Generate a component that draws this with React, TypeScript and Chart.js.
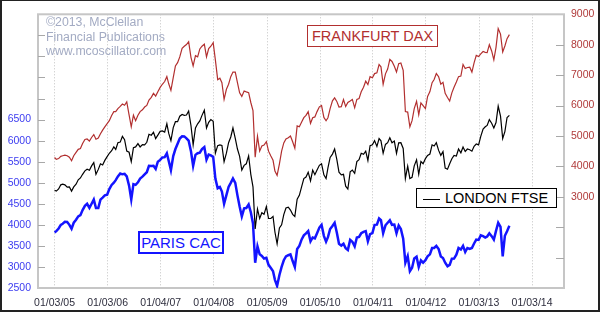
import React, { useEffect, useRef } from "react";
import { Chart, registerables } from "chart.js";

Chart.register(...registerables);

// X axis tick dates and labels
const tickDates = ["2005-01-03", "2006-01-03", "2007-01-04", "2008-01-04", "2009-01-05", "2010-01-05", "2011-01-04", "2012-01-04", "2013-01-03", "2014-01-03"];
const tickLabels = ["01/03/05", "01/03/06", "01/04/07", "01/04/08", "01/05/09", "01/05/10", "01/04/11", "01/04/12", "01/03/13", "01/03/14"];

// First observation date; afterwards mid-month and month-end observations, Jan 2005 - Jul 2013
const startDate = "2005-01-03";
const firstMonth = [2005, 0];
const lastMonth = [2013, 6];

// Frankfurt DAX (right axis) — start, then [mid, end] per month
const dax = [
  4290,
  4230, 4255, 4330, 4350, 4370, 4349, 4300, 4185, 4350, 4460, 4560, 4587, 4750, 4886, 4900, 4830, 4950, 5044, 4890, 4929, 5070, 5193, 5300, 5408,
  5500, 5674, 5800, 5797, 5900, 5970, 6050, 6009, 6120, 5692, 5300, 5683, 5500, 5682, 5800, 5860, 5950, 6004, 6180, 6269, 6400, 6309, 6450, 6597,
  6700, 6789, 6950, 6715, 6500, 6917, 7300, 7409, 7600, 7883, 7950, 8007, 8100, 7584, 7300, 7638, 7600, 7862, 7950, 8019, 7600, 7871, 7950, 8067,
  7500, 6851, 6900, 6748, 6200, 6535, 6700, 6949, 7100, 7097, 6750, 6418, 6300, 6479, 6450, 6422, 6100, 5831, 4300, 4988, 4500, 4669, 4700, 4810,
  4500, 4338, 4200, 3844, 3700, 4085, 4500, 4770, 4900, 4941, 5000, 4809, 4600, 5332, 5300, 5458, 5600, 5675, 5800, 5415, 5600, 5625, 5800, 5957,
  6000, 5608, 5500, 5598, 5900, 6154, 6250, 6136, 5950, 5964, 6200, 5966, 6100, 6148, 6200, 5925, 6200, 6229, 6450, 6601, 6800, 6688, 6950, 6914,
  7050, 7077, 7350, 7273, 6700, 7041, 7200, 7514, 7450, 7294, 7100, 7376, 7400, 7159, 5800, 5785, 5300, 5502, 5900, 6141, 5700, 6089, 6000, 5898,
  6300, 6458, 6750, 6856, 7050, 6947, 6700, 6761, 6400, 6264, 6150, 6416, 6600, 6772, 6950, 6971, 7350, 7216, 7250, 7260, 7100, 7405, 7650, 7612,
  7700, 7776, 7750, 7742, 8000, 7795, 7500, 7914, 8530, 8349, 7760, 7959, 8200, 8330,
];

// London FTSE (left axis)
const ftse = [
  4820,
  4800, 4852, 4950, 4968, 4950, 4894, 4900, 4801, 4900, 4964, 5070, 5113, 5200, 5282, 5320, 5296, 5400, 5478, 5200, 5317, 5450, 5423, 5530, 5619,
  5700, 5760, 5850, 5792, 5950, 5965, 6100, 6023, 5750, 5724, 5500, 5833, 5850, 5928, 5850, 5906, 5900, 5961, 6150, 6129, 6200, 6049, 6130, 6221,
  6230, 6203, 6400, 6172, 6000, 6308, 6450, 6449, 6580, 6621, 6600, 6608, 6700, 6360, 5900, 6303, 6400, 6467, 6600, 6722, 6300, 6433, 6500, 6457,
  5700, 5880, 5900, 5884, 5500, 5702, 5950, 6087, 6300, 6054, 5800, 5626, 5300, 5412, 5450, 5637, 5200, 4902, 3900, 4377, 4150, 4288, 4250, 4434,
  4150, 4150, 4200, 3830, 3550, 3926, 4000, 4244, 4400, 4418, 4350, 4249, 4200, 4608, 4700, 4909, 5100, 5134, 5250, 5045, 5300, 5191, 5300, 5413,
  5450, 5189, 5100, 5355, 5600, 5680, 5800, 5553, 5250, 5188, 5200, 4917, 4850, 5258, 5300, 5225, 5500, 5549, 5700, 5675, 5750, 5528, 5880, 5900,
  6000, 5863, 6050, 5994, 5700, 5909, 5950, 6070, 5950, 5990, 5700, 5946, 5950, 5815, 5100, 5395, 5100, 5128, 5400, 5545, 5200, 5505, 5450, 5572,
  5650, 5682, 5900, 5872, 5950, 5768, 5650, 5738, 5350, 5321, 5450, 5571, 5650, 5635, 5800, 5711, 5850, 5742, 5800, 5783, 5750, 5867, 5920, 5898,
  6100, 6277, 6330, 6361, 6500, 6412, 6300, 6430, 6820, 6583, 6050, 6215, 6550, 6600,
];

// Paris CAC (left axis)
const cac = [
  3820,
  3850, 3913, 4000, 4027, 4070, 4068, 4000, 3909, 4050, 4120, 4200, 4229, 4350, 4451, 4500, 4401, 4500, 4600, 4400, 4400, 4600, 4647, 4700, 4715,
  4850, 4947, 5000, 5061, 5150, 5220, 5200, 5210, 5150, 4930, 4600, 4966, 4950, 5009, 5100, 5144, 5200, 5250, 5400, 5398, 5400, 5327, 5500, 5542,
  5600, 5608, 5700, 5516, 5300, 5634, 5800, 5924, 6050, 6104, 6100, 6055, 6000, 5751, 5400, 5662, 5700, 5716, 5800, 5848, 5550, 5670, 5650, 5614,
  5100, 4870, 4900, 4790, 4500, 4707, 4900, 4997, 5100, 4996, 4700, 4434, 4200, 4392, 4400, 4483, 4300, 4032, 3100, 3487, 3300, 3262, 3200, 3218,
  3050, 2973, 2900, 2693, 2550, 2808, 3000, 3159, 3250, 3278, 3300, 3140, 3000, 3426, 3500, 3653, 3750, 3795, 3850, 3608, 3700, 3680, 3800, 3936,
  4000, 3739, 3600, 3708, 3900, 3974, 4050, 3816, 3550, 3508, 3550, 3443, 3400, 3643, 3600, 3490, 3700, 3715, 3800, 3833, 3850, 3610, 3780, 3805,
  4000, 4005, 4150, 4110, 3800, 3989, 4050, 4107, 4000, 4006, 3800, 3982, 3900, 3672, 3100, 3256, 2900, 2981, 3200, 3242, 3000, 3154, 3100, 3160,
  3250, 3298, 3450, 3452, 3500, 3424, 3250, 3213, 3100, 3017, 3050, 3197, 3200, 3291, 3450, 3414, 3500, 3355, 3450, 3429, 3450, 3557, 3650, 3641,
  3750, 3733, 3700, 3723, 3800, 3731, 3650, 3857, 4050, 3949, 3250, 3739, 3850, 3980,
];

const DAY = 86400000;
const toUTC = (s: string) => {
  const [y, m, d] = s.split("-").map(Number);
  return Date.UTC(y, m - 1, d);
};
const origin = toUTC(startDate);
const toDay = (t: number) => (t - origin) / DAY;

function observationDays(): number[] {
  const out = [0];
  let [y, m] = firstMonth;
  while (y < lastMonth[0] || (y === lastMonth[0] && m <= lastMonth[1])) {
    out.push(toDay(Date.UTC(y, m, 15)));
    out.push(toDay(Date.UTC(y, m + 1, 0)));
    m++;
    if (m > 11) { m = 0; y++; }
  }
  return out;
}

const FONT = "'Liberation Sans', Arial, sans-serif";
const DAX_COLOR = "#b22f2f";
const CAC_COLOR = "#1414ff";

const framePlugin = {
  id: "frameTicks",
  beforeDatasetsDraw(chart: any) {
    const { ctx, chartArea: a, scales } = chart;
    ctx.save();
    ctx.strokeStyle = "#c6c6c6";
    ctx.lineWidth = 2;
    ctx.strokeRect(a.left, a.top, a.right - a.left, a.bottom - a.top);
    ctx.strokeStyle = "#a8a8a8";
    ctx.lineWidth = 1;
    ctx.beginPath();
    for (const t of scales.y.ticks) {
      if (t.value <= scales.y.min || t.value >= scales.y.max) continue;
      const py = Math.round(scales.y.getPixelForValue(t.value)) + 0.5;
      ctx.moveTo(a.left, py);
      ctx.lineTo(a.left + 7, py);
    }
    for (const t of scales.y1.ticks) {
      if (t.value <= scales.y1.min || t.value >= scales.y1.max) continue;
      const py = Math.round(scales.y1.getPixelForValue(t.value)) + 0.5;
      ctx.moveTo(a.right - 8, py);
      ctx.lineTo(a.right, py);
    }
    ctx.stroke();
    ctx.restore();
  },
};

export default function App() {
  const ref = useRef<HTMLCanvasElement>(null);

  useEffect(() => {
    const days = observationDays();
    const pts = (arr: number[]) => arr.map((v, i) => ({ x: days[i], y: v }));
    const tickDays = tickDates.map((d) => toDay(toUTC(d)));

    const chart = new Chart(ref.current!, {
      type: "line",
      data: {
        datasets: [
          { label: "FRANKFURT DAX", data: pts(dax), yAxisID: "y1", borderColor: DAX_COLOR, borderWidth: 1.2, pointRadius: 0, tension: 0 },
          { label: "LONDON FTSE", data: pts(ftse), yAxisID: "y", borderColor: "#000000", borderWidth: 1.2, pointRadius: 0, tension: 0 },
          { label: "PARIS CAC", data: pts(cac), yAxisID: "y", borderColor: CAC_COLOR, borderWidth: 2.5, pointRadius: 0, tension: 0 },
        ],
      },
      options: {
        animation: false,
        responsive: false,
        events: [],
        layout: { padding: { top: 11, left: 0, right: 0, bottom: 0 } },
        plugins: { legend: { display: false }, tooltip: { enabled: false } },
        scales: {
          x: {
            type: "linear",
            min: -114,
            max: 3507,
            afterBuildTicks: (s: any) => { s.ticks = tickDays.map((v) => ({ value: v })); },
            afterFit: (s: any) => { s.height = 22; },
            ticks: {
              autoSkip: false,
              maxRotation: 0,
              padding: 9,
              color: "#2e2e3e",
              font: { family: FONT, size: 10.5 },
              callback: (v: any) => { const i = tickDays.indexOf(Number(v)); return i >= 0 ? tickLabels[i] : ""; },
            },
            grid: { display: true, color: "#c2c2c2", lineWidth: 1, drawTicks: false },
            border: { display: false, dash: [1, 2] },
          },
          y: {
            position: "left",
            min: 2500,
            max: 9000,
            afterFit: (s: any) => { s.width = 36; },
            ticks: {
              stepSize: 500,
              padding: 7,
              color: "#3c3cf0",
              font: { family: FONT, size: 10.5 },
              callback: (v: any) => (Number(v) <= 6500 ? String(v) : ""),
            },
            grid: { display: false, drawTicks: false },
            border: { display: false },
          },
          y1: {
            position: "right",
            min: 0,
            max: 9000,
            afterFit: (s: any) => { s.width = 34; },
            ticks: {
              stepSize: 1000,
              padding: 7,
              color: "#b03a3a",
              font: { family: FONT, size: 10.5 },
              callback: (v: any) => (Number(v) >= 3000 ? String(v) : ""),
            },
            grid: { display: false, drawTicks: false },
            border: { display: false },
          },
        },
      },
      plugins: [framePlugin],
    } as any);
    return () => chart.destroy();
  }, []);

  const abs = (o: React.CSSProperties): React.CSSProperties => ({ position: "absolute", boxSizing: "border-box", ...o });

  return (
    <div style={abs({ left: 0, top: 0, width: 600, height: 312, background: "#ffffff", fontFamily: FONT })}>
      <canvas ref={ref} width={596} height={309} style={{ position: "absolute", left: 2, top: 1, width: 596, height: 309 }} />
      <div style={abs({ left: 46, top: 15, color: "#a3abc3", fontSize: 12.3, lineHeight: "14.5px", whiteSpace: "nowrap" })}>
        <div>©2013, McClellan</div>
        <div>Financial Publications</div>
        <div>www.mcoscillator.com</div>
      </div>
      <div style={abs({ left: 307, top: 25, width: 131, height: 22, border: `1px solid ${DAX_COLOR}`, background: "#fff", color: DAX_COLOR, fontSize: 14.5, lineHeight: "20px", textAlign: "center", whiteSpace: "nowrap" })}>
        FRANKFURT DAX
      </div>
      <div style={abs({ left: 416, top: 188, width: 141, height: 20, border: "1px solid #000", background: "#fff", color: "#000", fontSize: 14.5, lineHeight: "18px", whiteSpace: "nowrap" })}>
        <span style={{ display: "inline-block", width: 17, height: 0, borderTop: "1px solid #000", verticalAlign: "middle", marginLeft: 6, marginRight: 5 }} />
        LONDON FTSE
      </div>
      <div style={abs({ left: 138, top: 231, width: 86, height: 23, border: `2px solid ${CAC_COLOR}`, background: "#fff", color: CAC_COLOR, fontSize: 15, lineHeight: "19px", textAlign: "center", whiteSpace: "nowrap" })}>
        PARIS CAC
      </div>
      <div style={abs({ left: 0, top: 0, width: 600, height: 312, borderStyle: "solid", borderColor: "#222", borderWidth: "1px 2px 2px 2px", pointerEvents: "none" })} />
    </div>
  );
}
